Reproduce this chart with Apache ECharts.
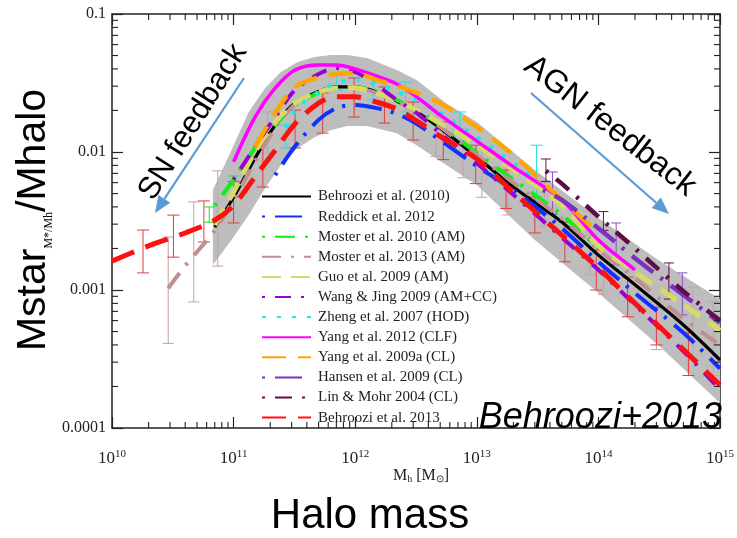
<!DOCTYPE html>
<html><head><meta charset="utf-8">
<script src="https://cdn.jsdelivr.net/npm/echarts@6/dist/echarts.min.js"></script>
<style>html,body{margin:0;padding:0;background:#fff}#c{width:737px;height:538px}</style>
</head><body><div id="c"></div>
<script>
// ---------- tick labels ----------
const xTickExponents = [10, 11, 12, 13, 14, 15];
const yTickLabels = ['0.0001', '0.001', '0.01', '0.1'];

// ---------- common halo-mass grid ----------
const massGrid = [1e10,2e10,4e10,7e10,1e11,1.5e11,2.2e11,3.2e11,5e11,7e11,1e12,1.5e12,2.2e12,3.2e12,5e12,1e13,2e13,5e13,1e14,2e14,5e14,1e15];

// ---------- curves (Mstar/Mh) ----------
const behroozi2010 = [null,null,null,0.00286,0.0047,0.0090,0.0157,0.0226,0.0275,0.0296,0.0296,0.0272,0.0234,0.0195,0.0149,0.0092,0.00557,0.00311,0.00179,0.00109,0.000557,0.000311];
const reddick2012  = [null,null,null,null,null,null,0.0068,0.011,0.0171,0.0208,0.0219,0.0208,0.0189,0.0160,0.0122,0.0079,0.0053,0.0028,0.0016,0.00095,0.00049,0.00027];
const moster2010   = [null,null,null,0.0041,0.0063,0.0107,0.0157,0.0219,0.0268,0.0291,0.0296,0.0272,0.0238,0.0201,0.0157,0.0098,0.0063,0.0035,0.0020,null,null,null];
const moster2013Mass = [2.9e10,4e10,7e10,1e11,1.5e11,2.2e11,3.2e11,5e11,7e11,1e12,1.5e12,2.2e12,3.2e12,5e12,1e13,2e13,5e13,1e14,2e14,5e14,1e15];
const moster2013   = [0.00103,0.00150,0.0027,0.0045,0.0085,0.0149,0.0222,0.0272,0.0291,0.0291,0.0268,0.0234,0.0195,0.0152,0.0095,0.0060,0.0033,0.00195,0.00122,0.00062,0.00040];
const guo2009      = [null,null,null,0.00296,0.00513,0.0100,0.0165,0.0226,0.0272,0.0291,0.0291,0.0268,0.0234,0.0201,0.0162,0.0112,0.0074,0.0041,0.0021,0.00135,0.00078,0.00051];
const wangJing2009 = [null,null,null,null,0.0063,0.0109,0.0179,0.0281,0.0367,0.0406,0.038,0.0306,0.0238,0.0192,0.0137,0.0083,0.0049,0.0024,0.0014,0.00078,0.00036,0.00019];
const zheng2007Mass = [2.7e11,3.2e11,5e11,7e11,1e12,1.5e12,2.2e12,3.2e12,5e12,1e13,2e13,3e13];
const zheng2007    = [0.0150,0.0201,0.0272,0.0316,0.0333,0.0311,0.0272,0.0238,0.0192,0.0128,0.0083,0.0064];
const yang2012     = [null,null,null,null,0.0085,0.0179,0.0291,0.0393,0.0427,0.0427,0.040,0.0355,0.0311,0.0251,0.0185,0.0120,0.0078,0.0045,0.0023,0.0014,null,null];
const yang2009a    = [null,null,null,null,null,0.0109,0.0192,0.0296,0.0348,0.0367,0.0374,0.0333,0.0301,0.0268,0.0226,0.0152,0.0095,0.0045,0.0026,null,null,null];
const hansenMass   = [3.5e13,5e13,1e14,2e14,5e14,1e15];
const hansen2009   = [0.00531,0.0045,0.0028,0.0017,0.00092,0.00058];
const linMohrMass  = [3.7e13,5e13,1e14,2e14,5e14,1e15];
const linMohr2004  = [0.0073,0.0059,0.0034,0.0020,0.00098,0.0006];
const behroozi2013 = [0.00162,0.00209,0.00259,0.0032,0.0041,0.0066,0.0103,0.0160,0.0226,0.0251,0.0251,0.0230,0.0205,0.0168,0.0130,0.0089,0.0051,0.0025,0.00144,0.0008,0.00037,0.000205];

// ---------- shaded band (Behroozi 2010 uncertainty) ----------
const bandMass  = [6.75e10,9.6e10,1.33e11,1.82e11,2.45e11,3.37e11,4.64e11,6.27e11,8.6e11,1.25e12,2.2e12,3.2e12,5.6e12,1e13,3e13,1e14,3.1e14,1e15];
const bandUpper = [0.0053,0.0103,0.0195,0.0291,0.0380,0.0449,0.0488,0.0505,0.0505,0.048,0.0393,0.0333,0.0226,0.0165,0.0074,0.00333,0.00165,0.00086];
const bandLower = [0.00152,0.0023,0.00349,0.00548,0.00805,0.0107,0.0128,0.0144,0.0154,0.0154,0.0137,0.0112,0.00805,0.00577,0.0023,0.00095,0.0004,0.000152];

// ---------- error bars ----------
const redErrMass = [1.8e10,3.2e10,5.7e10,1e11,1.74e11,3.2e11,5.4e11,9.8e11,1.74e12,3.0e12,5.3e12,9.8e12,1.74e13,3.0e13,5.3e13,9.6e13,1.74e14,3.0e14,5.5e14];
const redErrLow  = [0.00133,0.00173,0.00223,0.00306,0.00557,0.0107,0.0137,0.0179,0.0162,0.0122,0.0088,0.0059,0.0039,0.00259,0.0016,0.0010,0.00064,0.0004,0.00024];
const redErrHigh = [0.00272,0.00349,0.00442,0.0061,0.0126,0.0201,0.0268,0.0344,0.0296,0.0230,0.0165,0.0112,0.0074,0.00472,0.0031,0.00195,0.00124,0.00075,0.00049];
const rosyErrMass = [2.9e10,4.7e10,7.4e10,1.9e11,4.6e12,7.7e12,1.1e13,1.8e13,3.6e13,8.5e13,1.1e14,3e14,6e14,8.8e14];
const rosyErrLow  = [0.00041,0.00082,0.00149,0.0098,0.0093,0.0065,0.0047,0.0035,0.0029,0.00129,0.00093,0.00037,0.00031,0.00024];
const rosyErrHigh = [0.00242,0.00435,0.0073,0.0195,0.018,0.0135,0.0105,0.0075,0.0062,0.0025,0.002,0.00082,0.00105,0.00082];
const cyanErrMass = [2.7e11,7e11,1.4e12,2.6e12,7.3e12,3.1e13];
const cyanErrLow  = [0.0107,0.0281,0.0238,0.0195,0.0122,0.0039];
const cyanErrHigh = [0.0157,0.038,0.0361,0.0321,0.0195,0.0112];
const greenErrMass = [6.3e10,1e11];
const greenErrLow  = [0.0031,0.0058];
const greenErrHigh = [0.0040,0.0067];
const hansenErrMass = [4.2e13,1.4e14,4.9e14];
const hansenErrLow  = [0.00355,0.00152,0.00066];
const hansenErrHigh = [0.00716,0.00306,0.00133];
const linErrMass = [3.7e13,1.1e14,3.8e14];
const linErrLow  = [0.0061,0.0027,0.00086];
const linErrHigh = [0.0089,0.0037,0.00157];

// minor tick positions (axis furniture)
const minorX = [], minorY = [];
for (let e = 10; e < 15; e++) for (let k = 2; k <= 9; k++) minorX.push(k * Math.pow(10, e));
for (let e = -4; e < -1; e++) for (let k = 2; k <= 9; k++) minorY.push(k * Math.pow(10, e));

function pairs(mass, vals) {
  const out = [];
  mass.forEach((m, i) => { if (vals[i] != null) out.push([m, vals[i]]); });
  return out;
}
function lineSeries(name, mass, vals, color, width, dash, z) {
  return {
    name, type: 'line', data: pairs(mass, vals), symbol: 'none', smooth: 0.3,
    lineStyle: { color, width, type: dash || 'solid', cap: 'butt' },
    itemStyle: { color }, z, silent: true
  };
}
function errSeries(color, mass, low, high, cap) {
  return {
    type: 'custom', silent: true, z: 2,
    data: mass.map((m, i) => [m, low[i], high[i]]),
    encode: { x: 0, y: [1, 2] },
    renderItem(params, api) {
      const lo = api.coord([api.value(0), api.value(1)]);
      const hi = api.coord([api.value(0), api.value(2)]);
      const w = cap / 2;
      const st = { stroke: color, lineWidth: 1 };
      return { type: 'group', children: [
        { type: 'line', shape: { x1: lo[0], y1: lo[1], x2: hi[0], y2: hi[1] }, style: st },
        { type: 'line', shape: { x1: lo[0] - w, y1: lo[1], x2: lo[0] + w, y2: lo[1] }, style: st },
        { type: 'line', shape: { x1: hi[0] - w, y1: hi[1], x2: hi[0] + w, y2: hi[1] }, style: st }
      ]};
    }
  };
}

const serif = 'Liberation Serif, Times New Roman, serif';
const sans = 'Liberation Sans, Arial, sans-serif';
const axisCol = '#222';

function arrow(x1, y1, x2, y2, color) {
  const dx = x2 - x1, dy = y2 - y1, len = Math.hypot(dx, dy);
  const ux = dx / len, uy = dy / len, hl = 17, hw = 7;
  const bx = x2 - ux * hl, by = y2 - uy * hl;
  return { type: 'group', children: [
    { type: 'line', shape: { x1, y1, x2: bx, y2: by }, style: { stroke: color, lineWidth: 2.2 } },
    { type: 'polygon', shape: { points: [[x2, y2], [bx - uy * hw, by + ux * hw], [bx + uy * hw, by - ux * hw]] }, style: { fill: color } }
  ]};
}

const baseAxis = (pos, showLabel) => ({
  type: 'log', logBase: 10, position: pos,
  axisLine: { show: true, lineStyle: { color: axisCol, width: 1.5 } },
  axisTick: { show: true, inside: true, length: 11, lineStyle: { color: axisCol, width: 1.2 } },
  splitLine: { show: false }, minorTick: { show: false },
  axisLabel: { show: showLabel }
});

const xBottom = Object.assign(baseAxis('bottom', true), {
  min: 1e10, max: 1e15,
  axisLabel: {
    show: true, margin: 21,
    formatter: v => '{b|10}{s|' + xTickExponents[Math.round(Math.log10(v)) - 10] + '}',
    rich: {
      b: { fontSize: 17, fontFamily: serif, color: '#222' },
      s: { fontSize: 11, fontFamily: serif, color: '#222', verticalAlign: 'top', padding: [0, 0, 8, 0] }
    }
  }
});
const xTop = Object.assign(baseAxis('top', false), { min: 1e10, max: 1e15 });
const yLeft = Object.assign(baseAxis('left', true), {
  min: 1e-4, max: 0.1,
  axisLabel: { show: true, margin: 6, fontSize: 16, fontFamily: serif, color: '#222',
    formatter: v => yTickLabels[Math.round(Math.log10(v)) + 4] }
});
const yRight = Object.assign(baseAxis('right', false), { min: 1e-4, max: 0.1 });

const series = [
  {
    type: 'custom', silent: true, z: 1, data: [[bandMass[0], bandUpper[0]]], encode: { x: 0, y: 1 },
    renderItem(params, api) {
      const pts = [];
      for (let i = 0; i < bandMass.length; i++) pts.push(api.coord([bandMass[i], bandUpper[i]]));
      for (let i = bandMass.length - 1; i >= 0; i--) pts.push(api.coord([bandMass[i], bandLower[i]]));
      return { type: 'polygon', shape: { points: pts }, style: { fill: '#bdbdbd' } };
    }
  },
  {
    type: 'custom', silent: true, z: 5, data: minorX.map(m => [m, 1e-3]), encode: { x: 0, y: 1 },
    renderItem(params, api) {
      const cs = params.coordSys; const p = api.coord([api.value(0), 1e-3]);
      const st = { stroke: axisCol, lineWidth: 1.1 };
      return { type: 'group', children: [
        { type: 'line', shape: { x1: p[0], y1: cs.y + cs.height, x2: p[0], y2: cs.y + cs.height - 6 }, style: st },
        { type: 'line', shape: { x1: p[0], y1: cs.y, x2: p[0], y2: cs.y + 6 }, style: st }
      ]};
    }
  },
  {
    type: 'custom', silent: true, z: 5, data: minorY.map(v => [1e12, v]), encode: { x: 0, y: 1 },
    renderItem(params, api) {
      const cs = params.coordSys; const p = api.coord([1e12, api.value(1)]);
      const st = { stroke: axisCol, lineWidth: 1.1 };
      return { type: 'group', children: [
        { type: 'line', shape: { x1: cs.x, y1: p[1], x2: cs.x + 6, y2: p[1] }, style: st },
        { type: 'line', shape: { x1: cs.x + cs.width, y1: p[1], x2: cs.x + cs.width - 6, y2: p[1] }, style: st }
      ]};
    }
  },
  errSeries('#c9a0a0', rosyErrMass, rosyErrLow, rosyErrHigh, 11),
  errSeries('#e83a3a', redErrMass, redErrLow, redErrHigh, 12),
  errSeries('#22e0e0', cyanErrMass, cyanErrLow, cyanErrHigh, 12),
  errSeries('#22dd22', greenErrMass, greenErrLow, greenErrHigh, 10),
  errSeries('#8a4cc8', hansenErrMass, hansenErrLow, hansenErrHigh, 10),
  errSeries('#6b1050', linErrMass, linErrLow, linErrHigh, 10),
  lineSeries('Behroozi et al. (2010)', massGrid, behroozi2010, '#000000', 3.2, null, 3),
  lineSeries('Reddick et al. 2012', massGrid, reddick2012, '#1030ff', 4, [3, 10, 27, 9], 3),
  lineSeries('Moster et al. 2010 (AM)', massGrid, moster2010, '#11ee11', 4, [3, 10, 20, 10], 3),
  lineSeries('Moster et al. 2013 (AM)', moster2013Mass, moster2013, '#bf9090', 4, [19, 10, 3, 10], 3),
  lineSeries('Guo et al. 2009 (AM)', massGrid, guo2009, '#d9d96a', 5, [19, 10], 3),
  lineSeries('Wang & Jing 2009 (AM+CC)', massGrid, wangJing2009, '#9a00d0', 4, [3, 10, 16, 10], 3),
  lineSeries('Zheng et al. 2007 (HOD)', zheng2007Mass, zheng2007, '#11eeee', 4, [4, 11], 3),
  lineSeries('Yang et al. 2012 (CLF)', massGrid, yang2012, '#ff00ff', 3.5, null, 3),
  lineSeries('Yang et al. 2009a (CL)', massGrid, yang2009a, '#ffa500', 4.5, [24, 12], 3),
  lineSeries('Hansen et al. 2009 (CL)', hansenMass, hansen2009, '#7a30c0', 4.5, [3, 10, 27, 9], 3),
  lineSeries('Lin & Mohr 2004 (CL)', linMohrMass, linMohr2004, '#600c48', 4.5, [3, 10, 17, 10], 3),
  lineSeries('Behroozi et al. 2013', massGrid, behroozi2013, '#ff1010', 5, [24, 12], 3)
];

const legendNames = ['Behroozi et al. (2010)','Reddick et al. 2012','Moster et al. 2010 (AM)','Moster et al. 2013 (AM)','Guo et al. 2009 (AM)','Wang & Jing 2009 (AM+CC)','Zheng et al. 2007 (HOD)','Yang et al. 2012 (CLF)','Yang et al. 2009a (CL)','Hansen et al. 2009 (CL)','Lin & Mohr 2004 (CL)','Behroozi et al. 2013'];

const option = {
  animation: false,
  backgroundColor: '#fff',
  grid: { left: 112, right: 10, top: 14, bottom: 110, containLabel: false },
  xAxis: [xBottom, xTop],
  yAxis: [yLeft, yRight],
  legend: {
    orient: 'vertical', left: 261, top: 189, padding: 0, itemWidth: 49, itemHeight: 14, itemGap: 5.1,
    selectedMode: false, data: legendNames,
    itemStyle: { opacity: 0 },
    textStyle: { fontFamily: serif, fontSize: 15, color: '#222', padding: [0, 0, 0, 2] }
  },
  series,
  graphic: [
    { type: 'text', x: 34, y: 220, rotation: Math.PI / 2, z: 10,
      style: { text: '{a|Mstar}{b|M*/Mh}{a|/Mhalo}', align: 'center', verticalAlign: 'middle',
        rich: { a: { fontSize: 41, fontFamily: sans, fill: '#000' }, b: { fontSize: 12, fontFamily: serif, fill: '#000', verticalAlign: 'bottom' } } } },
    { type: 'text', x: 421, y: 476, z: 10,
      style: { text: '{m|M}{s|h}{m| [M}{s|⊙}{m|]}', align: 'center', verticalAlign: 'middle',
        rich: { m: { fontSize: 16, fontFamily: serif, fill: '#222' }, s: { fontSize: 10, fontFamily: serif, fill: '#222', verticalAlign: 'bottom' } } } },
    { type: 'text', x: 370, y: 516, z: 10,
      style: { text: 'Halo mass', font: '42px ' + sans, fill: '#000', align: 'center', verticalAlign: 'middle' } },
    { type: 'text', x: 193, y: 122, rotation: 58 * Math.PI / 180, z: 10,
      style: { text: 'SN feedback', font: '31px ' + sans, fill: '#000', align: 'center', verticalAlign: 'middle' } },
    { type: 'text', x: 610, y: 126, rotation: -38 * Math.PI / 180, z: 10,
      style: { text: 'AGN feedback', font: '32px ' + sans, fill: '#000', align: 'center', verticalAlign: 'middle' } },
    { type: 'text', x: 722, y: 418, z: 10,
      style: { text: 'Behroozi+2013', font: 'italic 36px ' + sans, fill: '#000', align: 'right', verticalAlign: 'middle' } },
    Object.assign(arrow(244, 78, 155, 213, '#5b9bd5'), { z: 10 }),
    Object.assign(arrow(531, 93, 669, 214, '#5b9bd5'), { z: 10 })
  ]
};

const chart = echarts.init(document.getElementById('c'), null, { renderer: 'canvas', width: 737, height: 538 });
chart.setOption(option);
</script>
</body></html>
